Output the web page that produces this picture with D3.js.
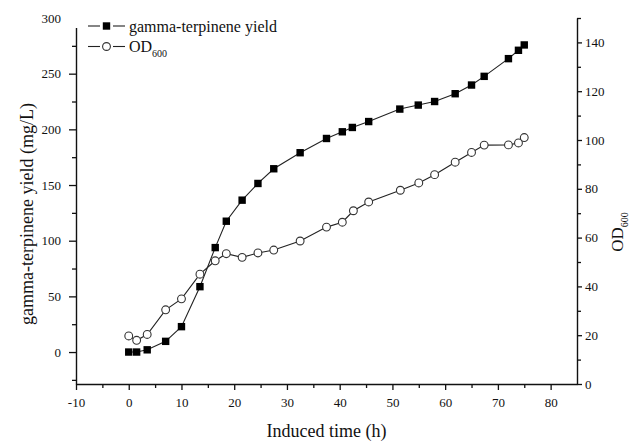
<!DOCTYPE html>
<html>
<head>
<meta charset="utf-8">
<script src="https://cdn.jsdelivr.net/npm/d3@7"></script>
<style>
  html, body { margin: 0; padding: 0; background: #fff; }
  svg { display: block; font-family: "Liberation Serif", "Times New Roman", serif; }
</style>
</head>
<body>
<svg id="chart" width="630" height="441"></svg>
<script>
// ---- data ----
const timeYield = [0, 1.5, 3.5, 7, 10, 13.5, 16.4, 18.5, 21.5, 24.5, 27.5, 32.5, 37.5, 40.5, 42.4, 45.5, 51.4, 54.9, 58, 61.9, 65, 67.4, 72, 73.9, 75];
const yieldValues = [0, 0, 2, 9.6, 22.8, 58.7, 93.8, 117.5, 136.4, 151.4, 164.6, 179, 191.8, 197.8, 201.7, 207, 218.2, 221.8, 225, 232, 239.8, 247.6, 263.5, 271, 275.8];
const timeOD = [0, 1.5, 3.5, 7, 10, 13.5, 16.4, 18.5, 21.5, 24.5, 27.5, 32.5, 37.5, 40.5, 42.6, 45.5, 51.5, 55, 58, 61.9, 65, 67.4, 72, 73.9, 75];
const odValues = [19.7, 17.9, 20.3, 30.4, 34.9, 45, 50.5, 53.4, 51.9, 53.7, 54.9, 58.6, 64.3, 66.3, 71, 74.6, 79.4, 82.4, 85.8, 90.9, 94.9, 97.9, 98, 98.8, 101];
const xTicks = [-10, 0, 10, 20, 30, 40, 50, 60, 70, 80];
const xMinorTicks = [-5, 5, 15, 25, 35, 45, 55, 65, 75];
const leftTicks = [0, 50, 100, 150, 200, 250, 300];
const leftMinorTicks = [-25, 25, 75, 125, 175, 225, 275];
const rightTicks = [0, 20, 40, 60, 80, 100, 120, 140];
const rightMinorTicks = [10, 30, 50, 70, 90, 110, 130, 150];
const seriesNames = ["gamma-terpinene yield", "OD"];

// ---- layout ----
const svg = d3.select("#chart");
const L = 76, R = 577, T = 18, B = 384;
const x = d3.scaleLinear().domain([-10, 85]).range([L, R]);
const yL = d3.scaleLinear().domain([-28.7, 300]).range([B, T]);
const yR = d3.scaleLinear().domain([0, 150]).range([B, T]);
const ink = "#111";
const fmt = d => String(d); // plain hyphen-minus, as in the original

function styleAxis(g) {
  g.selectAll("path.domain").attr("stroke", ink).attr("stroke-width", 1.4);
  g.selectAll(".tick line").attr("stroke", ink).attr("stroke-width", 1.3);
  g.selectAll(".tick text").attr("fill", ink).attr("font-size", 13)
    .attr("font-family", "Liberation Serif, Times New Roman, serif");
}

// x axis
const gx = svg.append("g").attr("transform", `translate(0,${B})`);
gx.call(d3.axisBottom(x).tickValues(xMinorTicks).tickSize(4).tickFormat("").tickSizeOuter(0));
const gxMaj = gx.append("g").call(d3.axisBottom(x).tickValues(xTicks).tickSize(6).tickPadding(8).tickSizeOuter(0).tickFormat(fmt));
gxMaj.select("path.domain").remove();
styleAxis(gx);

// left axis
const gl = svg.append("g").attr("transform", `translate(${L},0)`);
gl.call(d3.axisLeft(yL).tickValues(leftMinorTicks).tickSize(4).tickFormat("").tickSizeOuter(0));
const glMaj = gl.append("g").call(d3.axisLeft(yL).tickValues(leftTicks).tickSize(7).tickPadding(8).tickSizeOuter(0).tickFormat(fmt));
glMaj.select("path.domain").remove();
styleAxis(gl);

// right axis
const gr = svg.append("g").attr("transform", `translate(${R},0)`);
gr.call(d3.axisRight(yR).tickValues(rightMinorTicks).tickSize(4).tickFormat("").tickSizeOuter(0));
const grMaj = gr.append("g").call(d3.axisRight(yR).tickValues(rightTicks).tickSize(5).tickPadding(3).tickSizeOuter(0).tickFormat(fmt));
grMaj.select("path.domain").remove();
styleAxis(gr);

// axis titles
svg.append("text").attr("x", (L + R) / 2).attr("y", 437).attr("text-anchor", "middle")
  .attr("font-size", 18).attr("fill", ink).text("Induced time (h)");
svg.append("text").attr("transform", "translate(33,214) rotate(-90)").attr("text-anchor", "middle")
  .attr("font-size", 18).attr("fill", ink).text("gamma-terpinene yield (mg/L)");
const rt = svg.append("text").attr("transform", "translate(623,232) rotate(-90)").attr("text-anchor", "middle")
  .attr("font-size", 17).attr("fill", ink);
rt.append("tspan").text("OD");
rt.append("tspan").attr("font-size", 10).attr("dy", 5).text("600");

// lines
const lineL = d3.line().x((d, i) => x(timeYield[i])).y(d => yL(d));
const lineR = d3.line().x((d, i) => x(timeOD[i])).y(d => yR(d));
svg.append("path").attr("d", lineR(odValues)).attr("fill", "none").attr("stroke", "#222").attr("stroke-width", 1.1);
svg.append("path").attr("d", lineL(yieldValues)).attr("fill", "none").attr("stroke", "#222").attr("stroke-width", 1.1);

// markers
const sq = 7.4;
svg.append("g").selectAll("rect").data(yieldValues).join("rect")
  .attr("x", (d, i) => x(timeYield[i]) - sq / 2).attr("y", d => yL(d) - sq / 2)
  .attr("width", sq).attr("height", sq).attr("fill", "#000");
svg.append("g").selectAll("circle").data(odValues).join("circle")
  .attr("cx", (d, i) => x(timeOD[i])).attr("cy", d => yR(d)).attr("r", 3.9)
  .attr("fill", "#fff").attr("stroke", "#333").attr("stroke-width", 1.1);

// legend (white backdrop hides the top of the left axis, as in the original)
const lg = svg.append("g");
lg.append("rect").attr("x", 68).attr("y", 6).attr("width", 220).attr("height", 22).attr("fill", "#fff");
const rows = [26, 46.5];
rows.forEach((cy, k) => {
  lg.append("line").attr("x1", 88).attr("x2", 100).attr("y1", cy).attr("y2", cy).attr("stroke", "#222").attr("stroke-width", 1.1);
  lg.append("line").attr("x1", 113).attr("x2", 125).attr("y1", cy).attr("y2", cy).attr("stroke", "#222").attr("stroke-width", 1.1);
  if (k === 0) {
    lg.append("rect").attr("x", 106.5 - sq / 2).attr("y", cy - sq / 2).attr("width", sq).attr("height", sq).attr("fill", "#000");
  } else {
    lg.append("circle").attr("cx", 106.5).attr("cy", cy).attr("r", 3.9).attr("fill", "#fff").attr("stroke", "#333").attr("stroke-width", 1.1);
  }
});
lg.append("text").attr("x", 129).attr("y", rows[0] + 5.5).attr("font-size", 16).attr("fill", ink).text(seriesNames[0]);
const t2 = lg.append("text").attr("x", 129).attr("y", rows[1] + 5.5).attr("font-size", 16).attr("fill", ink);
t2.append("tspan").text(seriesNames[1]);
t2.append("tspan").attr("font-size", 10).attr("dy", 5).text("600");
</script>
</body>
</html>
